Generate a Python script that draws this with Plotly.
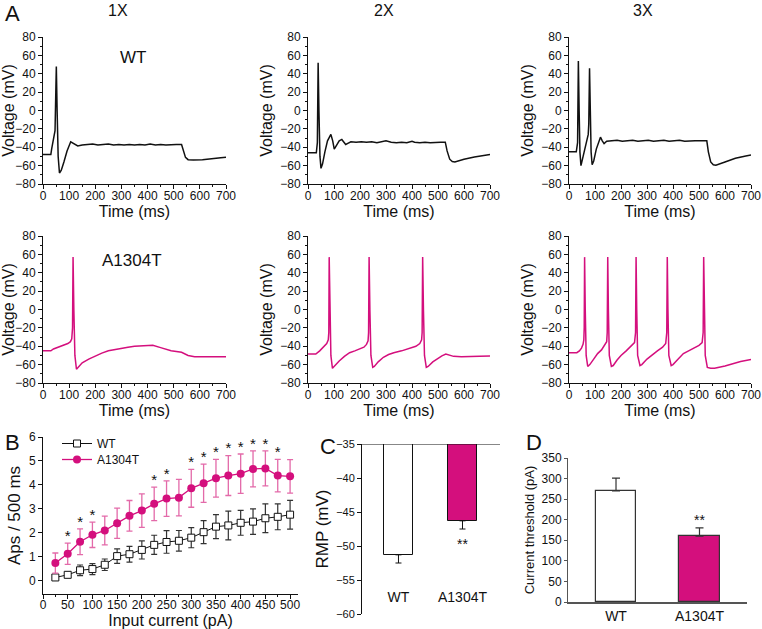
import plotly.graph_objects as go

W, H = 762, 629
FONT = "Arial, 'Liberation Sans', sans-serif"
PINK = "#d40f7d"
ERR_PINK = "#e36aa9"
BLACK = "#111111"

# ---------------- Panel A data (time ms, voltage mV) ----------------
wt1_t = [0, 30, 33, 46, 49, 51, 54, 58, 63, 70, 80, 92, 106, 118, 133, 150, 170, 190, 210, 230, 250,
         270, 290, 310, 330, 350, 370, 390, 410, 430, 450, 470, 490, 510, 530, 536, 545, 555, 575,
         610, 650, 680, 700]
wt1_v = [-48, -48, -42, -22, 20, 48, 0, -50, -68, -65, -56, -44, -34, -36, -38.5, -37.5, -37, -36.5,
         -37.5, -37, -36.5, -37.5, -37, -37.5, -37, -37.5, -37, -37.5, -36.5, -37.5, -37, -37.5, -37,
         -37, -37, -43, -51, -53.5, -54, -53.5, -52, -51.3, -51]

wt2_t = [0, 32, 36, 39, 42, 46, 50, 56, 65, 75, 88, 95, 101, 110, 120, 130, 138, 145, 155, 165, 185,
         205, 225, 245, 265, 285, 300, 320, 340, 360, 380, 400, 410, 430, 450, 470, 490, 510, 528,
         535, 545, 555, 565, 600, 640, 670, 700]
wt2_v = [-46, -46, -35, 52, 0, -50, -63, -58, -45, -33, -26, -33, -42, -38, -33, -31.5, -34, -37,
         -35.5, -34, -34.5, -34, -34.5, -34, -35, -34, -33, -34.5, -35, -34.5, -35, -33.5, -34.5, -35,
         -34.5, -35, -34.5, -34.5, -34.5, -44, -53, -55.5, -56, -53, -50.5, -49, -48]

wt3_t = [0, 28, 33, 36, 39, 42, 46, 55, 65, 74, 76, 79, 82, 85, 89, 95, 105, 115, 121, 128, 135, 145,
         165, 185, 205, 225, 245, 265, 285, 305, 325, 345, 365, 385, 405, 425, 445, 465, 485, 505,
         530, 536, 545, 555, 565, 600, 640, 680, 700]
wt3_v = [-45, -45, -35, 54, 0, -45, -60, -48, -37, -26, -15, 46, 0, -45, -59, -55, -42, -32, -29, -33,
         -36, -33.5, -33, -32.5, -33.5, -33, -32.5, -33.5, -33, -32.5, -33.5, -33, -32.5, -33.5, -33,
         -32.5, -33.5, -33, -33, -33, -33, -45, -56, -59, -59.5, -56, -52, -49.5, -48.5]

mt1_t = [0, 30, 40, 60, 80, 95, 105, 110, 113, 115, 118, 122, 128, 135, 150, 175, 200, 225, 250, 275,
         300, 325, 350, 375, 400, 420, 450, 490, 530, 555, 580, 620, 660, 700]
mt1_v = [-45, -45, -43, -41, -39, -37, -35, -32, -20, 57, 0, -50, -65, -63, -58, -54, -50.5, -47.5,
         -45, -43.5, -42.5, -41, -40, -39.5, -39.3, -39, -41.5, -45, -46.5, -50, -51.5, -51.5, -51.5,
         -51.3]

mt2_t = [0, 30, 45, 60, 72, 78, 80, 81.5, 84, 88, 94, 100, 120, 140, 160, 180, 200, 215, 225, 231,
         233, 235, 238, 242, 249, 255, 270, 290, 310, 330, 360, 390, 415, 430, 437, 439, 441, 444,
         448, 455, 462, 480, 500, 515, 530, 545, 560, 590, 620, 660, 700]
mt2_v = [-48.5, -48.5, -45, -41, -37, -33, -25, 57, 0, -50, -64, -62, -56, -51, -47, -45, -43, -41,
         -38, -34, -25, 57, 0, -50, -63, -62, -57, -52, -49, -47, -45, -42.5, -40, -37, -33, -25, 57,
         0, -50, -63, -62, -57, -53, -50.5, -48.5, -50, -51, -51.5, -51, -50.8, -50.5]

mt3_t = [0, 30, 40, 48, 54, 57, 58.5, 60, 62.5, 66, 72, 80, 95, 110, 125, 138, 145, 147, 149, 151.5,
         155, 163, 170, 185, 200, 220, 240, 252, 256, 258, 260.5, 264, 273, 280, 300, 320, 340, 360,
         372, 376, 378, 380.5, 384, 393, 400, 420, 440, 460, 480, 500, 512, 516, 518, 520.5, 524,
         532, 545, 560, 580, 600, 630, 660, 700]
mt3_v = [-47, -47, -45, -42, -38, -33, -20, 57, 0, -50, -62, -60, -54, -48, -44, -39, -35, -25, 57,
         0, -50, -62, -61, -55, -50, -45, -40, -36, -25, 57, 0, -50, -61, -60, -54, -49, -45, -41,
         -37, -25, 57, 0, -50, -61, -60, -54, -48, -45, -42, -39, -36, -25, 57, 0, -50, -63, -64,
         -64, -63, -61.5, -59, -56.5, -54.5]

# ---------------- Panel B data ----------------
currents = [25, 50, 75, 100, 125, 150, 175, 200, 225, 250, 275, 300, 325, 350, 375, 400, 425, 450, 475, 500]
wt_mean = [0.14, 0.25, 0.44, 0.49, 0.67, 1.03, 1.11, 1.29, 1.50, 1.62, 1.67, 1.80, 2.03, 2.26, 2.31,
           2.42, 2.47, 2.61, 2.67, 2.76]
wt_err = [0.08, 0.10, 0.22, 0.23, 0.24, 0.30, 0.33, 0.38, 0.40, 0.47, 0.43, 0.42, 0.48, 0.50, 0.60,
          0.52, 0.53, 0.60, 0.54, 0.60]
mut_mean = [0.74, 1.13, 1.63, 1.92, 2.10, 2.40, 2.71, 2.93, 3.21, 3.43, 3.47, 3.86, 4.07, 4.28, 4.39,
            4.47, 4.67, 4.69, 4.39, 4.36]
mut_err = [0.42, 0.44, 0.54, 0.53, 0.60, 0.63, 0.64, 0.70, 0.70, 0.74, 0.76, 0.79, 0.80, 0.79, 0.83,
           0.82, 0.75, 0.73, 0.68, 0.70]
sig_currents = [50, 75, 100, 225, 250, 300, 325, 350, 375, 400, 425, 450, 475]

# ---------------- Panel C / D data ----------------
groups = ["WT", "A1304T"]
rmp_mean = [-51.3, -46.3]
rmp_err = [1.2, 1.2]
thr_mean = [270, 160]
thr_err = [31, 20]


def fx(x):
    return x / W


def fy(y):
    return 1 - y / H


def xd(a, b):
    return [fx(a), fx(b)]


def yd(top, bottom):
    return [fy(bottom), fy(top)]


def ax_ref(k, letter):
    return letter if k == 1 else f"{letter}{k}"


def ax_key(k, letter):
    return f"{letter}axis" if k == 1 else f"{letter}axis{k}"


fig = go.Figure()

A_traces = [(wt1_t, wt1_v, BLACK), (wt2_t, wt2_v, BLACK), (wt3_t, wt3_v, BLACK),
            (mt1_t, mt1_v, PINK), (mt2_t, mt2_v, PINK), (mt3_t, mt3_v, PINK)]
for k, (t, v, c) in enumerate(A_traces, start=1):
    fig.add_trace(go.Scatter(x=t, y=v, mode="lines", line=dict(color=c, width=1.5),
                             xaxis=ax_ref(k, "x"), yaxis=ax_ref(k, "y"), showlegend=False,
                             hoverinfo="skip"))

# Panel B
fig.add_trace(go.Scatter(x=currents, y=wt_mean, mode="lines+markers", name="WT",
                         line=dict(color=BLACK, width=1),
                         marker=dict(symbol="square", size=7, color="white",
                                     line=dict(color=BLACK, width=1)),
                         error_y=dict(type="data", array=wt_err, color="#333333", thickness=1.2, width=3),
                         xaxis="x7", yaxis="y7", legend="legend"))
fig.add_trace(go.Scatter(x=currents, y=mut_mean, mode="lines+markers", name="A1304T",
                         line=dict(color=PINK, width=1.3),
                         marker=dict(symbol="circle", size=8, color=PINK),
                         error_y=dict(type="data", array=mut_err, color=ERR_PINK, thickness=1.3, width=3),
                         xaxis="x7", yaxis="y7", legend="legend2"))
star_y = [mut_mean[currents.index(c)] + mut_err[currents.index(c)] + 0.25 for c in sig_currents]
fig.add_trace(go.Scatter(x=sig_currents, y=star_y, mode="text", text=["*"] * len(sig_currents),
                         textfont=dict(size=15, color=BLACK, family=FONT), textposition="middle center",
                         xaxis="x7", yaxis="y7", showlegend=False, hoverinfo="skip"))

# Panel C
fig.add_trace(go.Bar(x=groups, y=rmp_mean, width=0.45,
                     marker=dict(color=["white", PINK], line=dict(color=BLACK, width=1)),
                     error_y=dict(type="data", symmetric=False, array=[0, 0], arrayminus=rmp_err,
                                  color=BLACK, thickness=1, width=3),
                     xaxis="x8", yaxis="y8", showlegend=False))
# Panel D
fig.add_trace(go.Bar(x=groups, y=thr_mean, width=0.48,
                     marker=dict(color=["white", PINK], line=dict(color="#333333", width=1.2)),
                     error_y=dict(type="data", symmetric=False, array=thr_err, arrayminus=[0, 0],
                                  color="#333333", thickness=1.2, width=4),
                     xaxis="x9", yaxis="y9", showlegend=False))

layout = dict(width=W, height=H, margin=dict(l=0, r=0, t=0, b=0),
              paper_bgcolor="white", plot_bgcolor="white",
              font=dict(family=FONT, size=12, color=BLACK), bargap=0)

common = dict(showgrid=False, zeroline=False, showline=True, linecolor=BLACK, linewidth=1,
              ticks="outside", tickcolor=BLACK, automargin=False, tickfont=dict(size=12))

cols = [xd(43, 226), xd(308, 490), xd(569, 751)]
rows = [yd(37, 184), yd(236, 383)]
k = 1
for r in range(2):
    for c in range(3):
        layout[ax_key(k, "x")] = dict(common, domain=cols[c], anchor=ax_ref(k, "y"), range=[0, 700],
                                      tickvals=list(range(0, 701, 100)), ticklen=4, ticklabelstandoff=-3,
                                      minor=dict(ticks="outside", ticklen=2, dtick=50, tickcolor=BLACK),
                                      title=dict(text="Time (ms)", font=dict(size=16), standoff=3))
        layout[ax_key(k, "y")] = dict(common, domain=rows[r], anchor=ax_ref(k, "x"), range=[-80, 80],
                                      tickvals=list(range(-80, 81, 20)), ticklen=4,
                                      minor=dict(ticks="outside", ticklen=2, dtick=10, tickcolor=BLACK),
                                      title=dict(text="Voltage (mV)", font=dict(size=16), standoff=3))
        k += 1

# Panel B axes
layout["xaxis7"] = dict(common, domain=xd(43, 298), anchor="y7", range=[0, 516],
                        tickvals=list(range(0, 501, 50)), ticklen=4, ticklabelstandoff=-4,
                        minor=dict(ticks="outside", ticklen=2, dtick=25, tickcolor=BLACK),
                        title=dict(text="Input current (pA)", font=dict(size=16), standoff=2))
layout["yaxis7"] = dict(common, domain=yd(437, 594), anchor="x7", range=[-0.55, 6],
                        tickvals=list(range(0, 7)), ticklen=4,
                        title=dict(text="Aps / 500 ms", font=dict(size=17), standoff=3))

# Panel C axes
layout["xaxis8"] = dict(showgrid=False, zeroline=False, showline=False, ticks="", automargin=False,
                        domain=xd(362, 500), anchor="free", position=fy(587),
                        range=[-0.57, 1.586], tickfont=dict(size=14), type="category")
layout["yaxis8"] = dict(common, domain=yd(444, 614), anchor="x8", range=[-60, -35],
                        tickvals=list(range(-60, -34, 5)), ticklen=4, tickfont=dict(size=11),
                        title=dict(text="RMP (mV)", font=dict(size=17), standoff=3))

# Panel D axes
layout["xaxis9"] = dict(showgrid=False, zeroline=False, showline=True, linecolor="#555555", linewidth=1.5,
                        ticks="", automargin=False, domain=xd(568, 747), anchor="y9",
                        range=[-0.575, 1.569], tickfont=dict(size=14), type="category")
layout["yaxis9"] = dict(common, domain=yd(458, 602), anchor="x9", range=[0, 350],
                        tickvals=list(range(0, 351, 50)), ticklen=3, linecolor="#555555",
                        tickcolor="#555555",
                        title=dict(text="Current threshold (pA)", font=dict(size=13), standoff=4))

layout["legend"] = dict(x=fx(57), y=fy(429), xanchor="left", yanchor="top",
                        bgcolor="rgba(0,0,0,0)", font=dict(size=12), itemwidth=30)
layout["legend2"] = dict(x=fx(57), y=fy(445), xanchor="left", yanchor="top",
                         bgcolor="rgba(0,0,0,0)", font=dict(size=12), itemwidth=30)

layout["shapes"] = [dict(type="line", xref="x8 domain", x0=0, x1=1, yref="y8", y0=-35, y1=-35,
                         line=dict(color=BLACK, width=1))]


def pa(text, x, y, size):
    return dict(text=text, x=fx(x), y=fy(y), xref="paper", yref="paper", showarrow=False,
                xanchor="center", yanchor="middle", font=dict(size=size, family=FONT, color=BLACK))


annotations = [
    pa("A", 12, 13, 22), pa("B", 12, 442, 22), pa("C", 328, 446, 22), pa("D", 534, 442, 22),
    pa("1X", 118, 10, 16), pa("2X", 384, 10, 16), pa("3X", 643, 10, 16),
    pa("WT", 133, 58, 17), pa("A1304T", 132, 260, 17),
    dict(text="**", x="A1304T", y=-49.7, xref="x8", yref="y8", showarrow=False,
         font=dict(size=14, family=FONT, color=BLACK)),
    dict(text="**", x="A1304T", y=200, xref="x9", yref="y9", showarrow=False,
         font=dict(size=14, family=FONT, color=BLACK)),
]
layout["annotations"] = annotations

fig.update_layout(**layout)
# remove the browser's default 8 px body margin so the figure fills the window exactly
fig.write_html("out.html", config={"displayModeBar": False},
               post_script="document.body.style.margin='0px';")
